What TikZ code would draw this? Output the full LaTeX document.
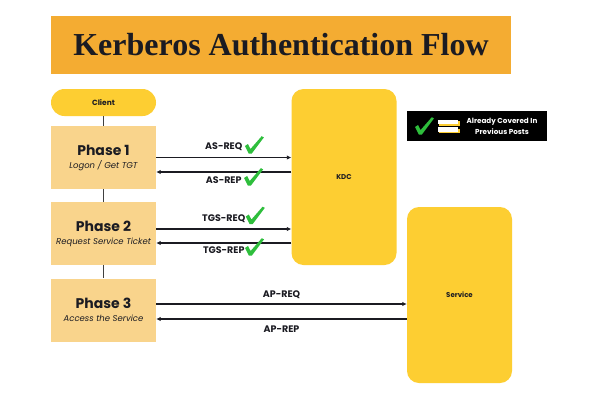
\documentclass[tikz,border=0pt]{standalone}
\usepackage{fontspec}
\setmainfont{Poppins}
\newfontfamily\titlefont{Liberation Serif}
\usetikzlibrary{arrows.meta}

\definecolor{titleorange}{HTML}{F4AC32}
\definecolor{phaseorange}{HTML}{F9D48C}
\definecolor{boxyellow}{HTML}{FDCE32}
\definecolor{okgreen}{HTML}{2EBE3C}
\definecolor{inkdark}{HTML}{1B1B22}

\tikzset{
  okmark/.pic={
    \fill[okgreen] (-5,-7) -- (-2,-9) -- (0.6,-4) -- (11.8,-16.8)
      -- (14,-15.6) -- (1.8,0.6) -- (-1.2,0.6) -- cycle;
  }
}

\begin{document}
\begin{tikzpicture}[
  x=1pt, y=-1pt,
  every node/.style={text=inkdark, inner sep=0pt},
  phasebox/.style={fill=phaseorange, minimum width=105pt, minimum height=63pt, align=center},
  serverbox/.style={fill=boxyellow, rounded corners=12pt, minimum width=105pt,
    minimum height=176pt, font=\bfseries\fontsize{7}{8}\selectfont},
  msg/.style={-{Latex[length=4.5pt,width=4.5pt]}, line width=1.1pt, inkdark},
  msglabel/.style={font=\bfseries\fontsize{9.5}{10}\selectfont, inner sep=1pt},
  link/.style={line width=0.4pt, black!75}
]
\useasboundingbox[fill=white] (0,0) rectangle (600,400);

% title bar
\node[fill=titleorange, minimum width=460pt, minimum height=58pt,
  font=\titlefont\bfseries\fontsize{32}{36}\selectfont] (title) at (281,45)
  {Kerberos Authentication Flow};

% client side
\node[fill=boxyellow, rounded corners=13.5pt, minimum width=105pt, minimum height=27pt,
  font=\bfseries\fontsize{7.5}{8}\selectfont] (client) at (103.5,102.5) {Client};
\node[phasebox] (p1) at (103.5,157.5)
  {{\bfseries\fontsize{14}{16}\selectfont Phase 1}\\[1pt]{\itshape\fontsize{8.5}{10}\selectfont Logon / Get TGT}};
\node[phasebox] (p2) at (103.5,233.5)
  {{\bfseries\fontsize{14}{16}\selectfont Phase 2}\\[1pt]{\itshape\fontsize{8.5}{10}\selectfont Request Service Ticket}};
\node[phasebox] (p3) at (103.5,310)
  {{\bfseries\fontsize{14}{16}\selectfont Phase 3}\\[1pt]{\itshape\fontsize{8.5}{10}\selectfont Access the Service}};

\draw[link] (client) -- (p1);
\draw[link] (p1) -- (p2);
\draw[link] (p2) -- (p3);

% servers
\node[serverbox] (kdc) at (344,177) {KDC};
\node[serverbox] (service) at (459.5,295) {Service};

% messages
\draw[msg] (p1.east) -- (p1.east -| kdc.west)
  node[msglabel, midway, above=5pt] (asreq) {AS-REQ};
\draw[msg] ([yshift=-14.5pt]p1.east -| kdc.west) -- ([yshift=-14.5pt]p1.east)
  node[msglabel, midway, below=3pt] (asrep) {AS-REP};
\draw[msg] ([yshift=4.5pt]p2.east) -- ([yshift=4.5pt]p2.east -| kdc.west)
  node[msglabel, midway, above=5pt] (tgsreq) {TGS-REQ};
\draw[msg] ([yshift=-9.5pt]p2.east -| kdc.west) -- ([yshift=-9.5pt]p2.east)
  node[msglabel, midway, below=2pt] (tgsrep) {TGS-REP};
\draw[msg] ([yshift=6pt]p3.east) -- ([yshift=6pt]p3.east -| service.west)
  node[msglabel, midway, above=4pt] (apreq) {AP-REQ};
\draw[msg] ([yshift=-9pt]p3.east -| service.west) -- ([yshift=-9pt]p3.east)
  node[msglabel, midway, below=5pt] (aprep) {AP-REP};

% ticks for covered messages
\pic at ([xshift=6pt,yshift=-6pt]asreq.east) {okmark};
\pic at ([xshift=6pt,yshift=-5pt]asrep.east) {okmark};
\pic at ([xshift=4pt,yshift=-5pt]tgsreq.east) {okmark};
\pic at ([xshift=4pt,yshift=-5pt]tgsrep.east) {okmark};

% legend
\node[fill=black, minimum width=140pt, minimum height=30pt] (legend) at (477,126) {};
\pic at (420,134) {okmark};
\fill[boxyellow] (439,121) rectangle (460,125.5);
\fill[white] (438,119.5) rectangle (458,124);
\fill[boxyellow] (439,128.5) rectangle (460,133);
\fill[white] (438,127) rectangle (458,131.5);
\node[text=white, align=center, font=\bfseries\fontsize{7.2}{11}\selectfont]
  (legendtext) at (502,126.5) {Already Covered In\\Previous Posts};

\end{tikzpicture}
\end{document}
